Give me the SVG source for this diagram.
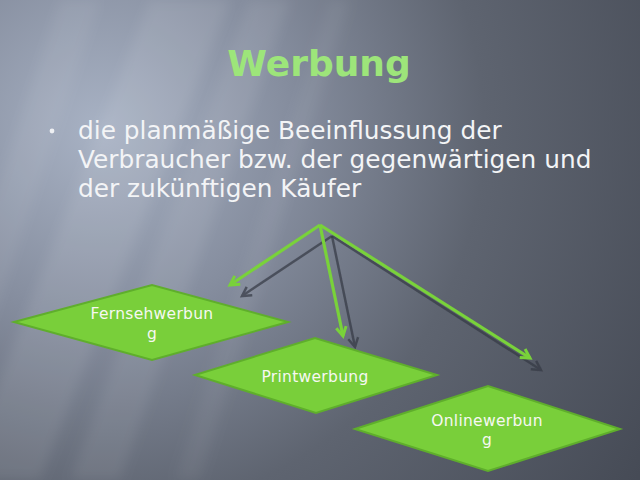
<svg xmlns="http://www.w3.org/2000/svg" width="640" height="480" viewBox="0 0 640 480">
<style>
.title{font-family:"DejaVu Sans",Verdana,sans-serif;font-weight:bold;font-size:36px;fill:#9de57a}
.body{font-family:"DejaVu Sans",Verdana,sans-serif;font-size:24.8px;fill:#f3f4f6}
.lbl{font-family:"DejaVu Sans",Verdana,sans-serif;font-size:15.5px;fill:#f6f8f2;text-anchor:middle;letter-spacing:0.3px}
.node{fill:#79cf3a;stroke:#5fae2c;stroke-width:2}
.g{stroke:#79d23a;stroke-width:3.2;fill:none}
.s{stroke:#353a44;stroke-width:2.5;fill:none;opacity:0.7}
</style>
<defs>
<radialGradient id="bg" gradientUnits="userSpaceOnUse" cx="100" cy="130" r="640">
<stop offset="0" stop-color="#a8b2c4"/>
<stop offset="0.3" stop-color="#858d9e"/>
<stop offset="0.6" stop-color="#5e6470"/>
<stop offset="1" stop-color="#464b56"/>
</radialGradient>
<filter id="blur" x="-20%" y="-20%" width="140%" height="140%"><feGaussianBlur stdDeviation="6"/></filter>
<filter id="soft"><feGaussianBlur stdDeviation="0.6"/></filter>
<marker id="ag" markerUnits="userSpaceOnUse" markerWidth="14" markerHeight="14" viewBox="0 0 14 14" refX="11" refY="7" orient="auto" overflow="visible">
<path d="M2,2 L11,7 L2,12" fill="none" stroke="#79d23a" stroke-width="3"/>
</marker>
<marker id="as" markerUnits="userSpaceOnUse" markerWidth="14" markerHeight="14" viewBox="0 0 14 14" refX="11" refY="7" orient="auto" overflow="visible">
<path d="M2,2 L11,7 L2,12" fill="none" stroke="#353a44" stroke-width="2.5"/>
</marker>
</defs>
<rect width="640" height="480" fill="url(#bg)"/>
<g filter="url(#blur)" fill="#ffffff">
<polygon points="150,0 230,0 40,480 -40,480" opacity="0.08"/>
<polygon points="250,0 290,0 120,480 70,480" opacity="0.07"/>
<polygon points="330,0 350,0 200,480 175,480" opacity="0.05"/>
<polygon points="60,0 100,0 -60,480 -100,480" opacity="0.06"/>
</g>
<text class="title" x="319" y="76" text-anchor="middle">Werbung</text>
<circle cx="52" cy="131" r="2.4" fill="#eef0f3"/>
<text class="body" x="78" y="139">die planmäßige Beeinflussung der</text>
<text class="body" x="78" y="168">Verbraucher bzw. der gegenwärtigen und</text>
<text class="body" x="78" y="197">der zukünftigen Käufer</text>
<g id="connectors">
<g filter="url(#soft)">
<line class="s" x1="332" y1="236" x2="242" y2="296" marker-end="url(#as)"/>
<line class="s" x1="332" y1="236" x2="355" y2="347" marker-end="url(#as)"/>
<line class="s" x1="332" y1="236" x2="541" y2="370" marker-end="url(#as)"/>
</g>
<line class="g" x1="320" y1="225" x2="230" y2="285" marker-end="url(#ag)"/>
<line class="g" x1="320" y1="225" x2="343" y2="336" marker-end="url(#ag)"/>
<line class="g" x1="320" y1="225" x2="530" y2="358" marker-end="url(#ag)"/>
</g>
<g id="fernsehwerbung">
<polygon class="node" points="14,322 152,285 288,322 152,360"/>
<text class="lbl" x="152" y="319">Fernsehwerbun</text>
<text class="lbl" x="152" y="339">g</text>
</g>
<g id="printwerbung">
<polygon class="node" points="195,375 315,338 437,375 316,413"/>
<text class="lbl" x="315" y="382">Printwerbung</text>
</g>
<g id="onlinewerbung">
<polygon class="node" points="355,429 488,386 620,429 488,471"/>
<text class="lbl" x="487" y="426">Onlinewerbun</text>
<text class="lbl" x="487" y="445">g</text>
</g>
</svg>
